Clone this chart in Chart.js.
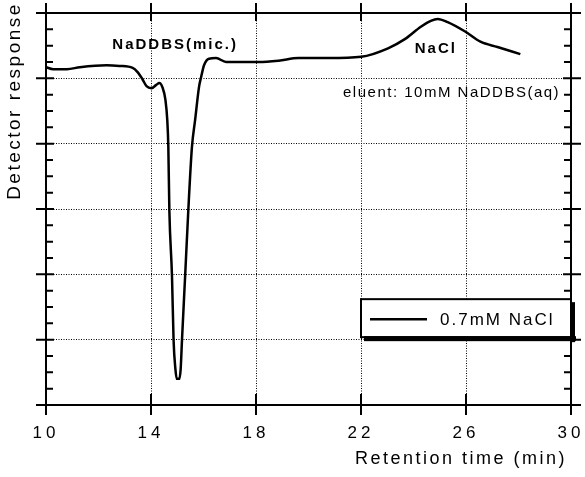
<!DOCTYPE html>
<html>
<head>
<meta charset="utf-8">
<script src="https://cdn.jsdelivr.net/npm/chart.js@4"></script>
<style>
  html, body { margin: 0; padding: 0; background: #fff; }
  #wrap { width: 585px; height: 477px; }
</style>
</head>
<body>
<div id="wrap"><canvas id="chromChart"></canvas></div>
<script>
// Retention time (min) and detector response (arbitrary units, 0-6)
const times = [10.0, 10.27, 10.80, 11.29, 12.31, 12.80, 13.30, 13.48, 13.67, 13.83,
    14.02, 14.20, 14.32, 14.43, 14.55, 14.62, 14.66, 14.70, 14.80, 14.86,
    14.93, 14.98, 15.08, 15.13, 15.18, 15.30, 15.42, 15.56, 15.68, 15.83,
    15.91, 16.02, 16.21, 16.48, 16.86, 17.08, 18.11, 18.86, 19.62, 20.76,
    22.01, 23.03, 23.67, 24.28, 24.66, 24.92, 25.30, 25.95, 26.55, 27.20, 28.07];
const response = [5.17, 5.14, 5.14, 5.17, 5.20, 5.19, 5.16, 5.10, 4.99, 4.88,
    4.85, 4.90, 4.93, 4.87, 4.67, 4.36, 3.95, 2.97, 1.97, 0.99,
    0.55, 0.40, 0.40, 0.55, 0.99, 1.97, 2.97, 3.95, 4.36, 4.87,
    5.02, 5.20, 5.30, 5.31, 5.25, 5.25, 5.25, 5.27, 5.31, 5.31,
    5.33, 5.46, 5.60, 5.79, 5.88, 5.91, 5.86, 5.72, 5.56, 5.48, 5.37];
const seriesLabel = '0.7mM NaCl';
const xTicks = [10, 14, 18, 22, 26, 30];

const FONT = "'Liberation Sans', Arial, sans-serif";

// Frame, tick marks, annotations and legend box
const decorPlugin = {
    id: 'decor',
    beforeDraw(chart) {
        chart.ctx.letterSpacing = '4px';
    },
    afterDatasetsDraw(chart) {
        const ctx = chart.ctx;
        const a = chart.chartArea;
        const xs = chart.scales.x;
        const ys = chart.scales.y;
        ctx.save();
        ctx.strokeStyle = '#000';
        ctx.lineWidth = 2;
        ctx.strokeRect(a.left, a.top, a.right - a.left, a.bottom - a.top);

        ctx.beginPath();
        xTicks.forEach(v => {
            const px = xs.getPixelForValue(v);
            ctx.moveTo(px, a.bottom - 11); ctx.lineTo(px, a.bottom + 10);
            ctx.moveTo(px, a.top - 10); ctx.lineTo(px, a.top + 8);
        });
        for (let v = 0; v <= 6; v += 0.25) {
            const py = ys.getPixelForValue(v);
            const major = Number.isInteger(v);
            ctx.moveTo(a.left - (major ? 10 : 0), py);
            ctx.lineTo(a.left + (major ? 8 : 7), py);
            ctx.moveTo(a.right - (major ? 8 : 7), py);
            ctx.lineTo(a.right + (major ? 10 : 0), py);
        }
        ctx.stroke();

        ctx.fillStyle = '#000';
        ctx.textAlign = 'center';
        ctx.textBaseline = 'middle';
        ctx.letterSpacing = '2px';
        ctx.font = 'bold 15px ' + FONT;
        ctx.fillText('NaDDBS(mic.)', xs.getPixelForValue(14.92), ys.getPixelForValue(5.51));
        ctx.fillText('NaCl', xs.getPixelForValue(24.85), ys.getPixelForValue(5.45));
        ctx.font = '15px ' + FONT;
        ctx.letterSpacing = '1.5px';
        ctx.fillText('eluent: 10mM NaDDBS(aq)', xs.getPixelForValue(25.45), ys.getPixelForValue(4.78));

        // axis titles
        ctx.font = '18px ' + FONT;
        ctx.letterSpacing = '2.5px';
        ctx.textAlign = 'right';
        ctx.fillText('Retention time (min)', a.right - 4, 459);
        ctx.save();
        ctx.translate(15, 101);
        ctx.rotate(-Math.PI / 2);
        ctx.textAlign = 'center';
        ctx.font = '19px ' + FONT;
        ctx.letterSpacing = '2.5px';
        ctx.fillText('Detector response', 0, 0);
        ctx.restore();

        // legend box
        const ds = chart.data.datasets[0];
        const bx = xs.getPixelForValue(22);
        const by = ys.getPixelForValue(1.62);
        const bw = a.right - bx;
        const bh = 38;
        ctx.fillStyle = '#fff';
        ctx.fillRect(bx, by, bw, bh);
        ctx.lineWidth = 2;
        ctx.strokeRect(bx, by, bw, bh);
        ctx.fillStyle = '#000';
        ctx.fillRect(bx + 3, by + bh - 1, bw + 2, 5);
        ctx.fillRect(bx + bw - 1, by + 3, 5, bh + 2);
        ctx.strokeStyle = ds.borderColor;
        ctx.lineWidth = ds.borderWidth;
        ctx.beginPath();
        ctx.moveTo(bx + 9, by + bh / 2 + 1);
        ctx.lineTo(bx + 66, by + bh / 2 + 1);
        ctx.stroke();
        ctx.textAlign = 'left';
        ctx.font = '17px ' + FONT;
        ctx.letterSpacing = '2px';
        ctx.fillText(ds.label, bx + 79, by + bh / 2 + 2);
        ctx.restore();
    },
    afterDraw(chart) {
        chart.ctx.letterSpacing = '0px';
    }
};

let ctx = document.getElementById('chromChart').getContext('2d');
let chromChart = new Chart(ctx, {
    type: 'scatter',
    data: {
        datasets: [{
            label: seriesLabel,
            data: times.map((t, i) => ({ x: t, y: response[i] })),
            showLine: true,
            borderColor: '#000000',
            borderWidth: 2.5,
            pointRadius: 0,
            cubicInterpolationMode: 'monotone'
        }]
    },
    options: {
        responsive: true,
        maintainAspectRatio: false,
        animation: false,
        layout: { padding: { top: 13, right: 14, left: 0, bottom: 0 } },
        plugins: {
            legend: { display: false },
            tooltip: { enabled: false }
        },
        scales: {
            x: {
                type: 'linear',
                min: 10,
                max: 30,
                afterBuildTicks: scale => { scale.ticks = xTicks.map(v => ({ value: v })); },
                afterFit: scale => {
                    scale.height = 72;
                    scale.paddingLeft = 0;
                    scale.paddingRight = 0;
                },
                ticks: {
                    color: '#000',
                    padding: 18,
                    maxRotation: 0,
                    font: { family: FONT, size: 17 }
                },
                grid: { color: '#000', lineWidth: 1, drawTicks: false },
                border: { display: false, dash: [1, 1.5] }
            },
            y: {
                min: 0,
                max: 6,
                afterFit: scale => {
                    scale.width = 46;
                    scale.paddingTop = 0;
                    scale.paddingBottom = 0;
                },
                ticks: { display: false, stepSize: 1 },
                grid: { color: '#000', lineWidth: 1, drawTicks: false },
                border: { display: false, dash: [1, 1.5] }
            }
        }
    },
    plugins: [decorPlugin]
});
</script>
</body>
</html>
